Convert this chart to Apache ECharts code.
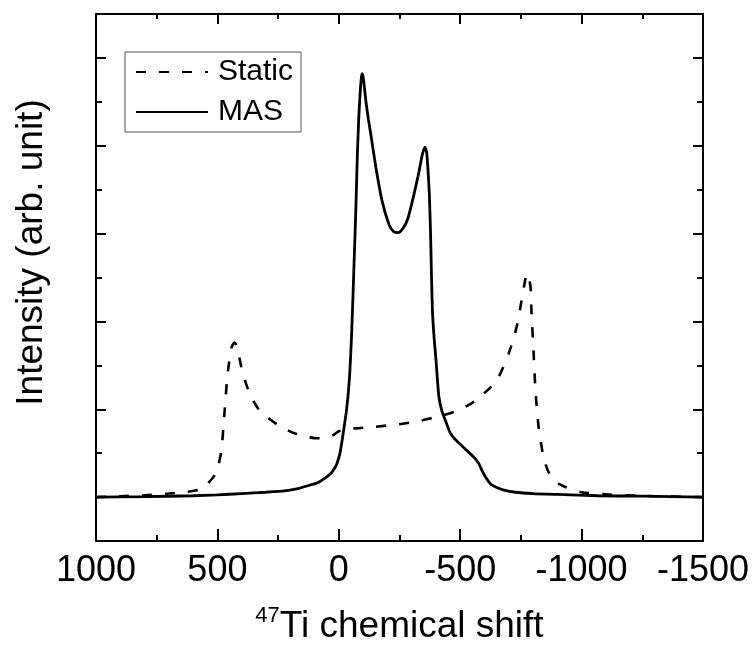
<!DOCTYPE html>
<html>
<head>
<meta charset="utf-8">
<script src="https://cdn.jsdelivr.net/npm/echarts@6/dist/echarts.min.js"></script>
<style>html,body{margin:0;padding:0;background:#fff}#c{width:752px;height:652px}</style>
</head>
<body>
<div id="c"></div>
<script>
// 47Ti chemical shift (ppm) and intensity (arb. unit)
const staticShift = [1000, 900, 800, 700, 640, 581, 545, 511, 495, 483, 470, 458, 442, 430, 420, 401, 380, 360, 330, 294, 250, 195, 140, 89, 50, 20, 0, -40, -84, -150, -248, -320, -384, -440, -494, -545, -589, -625, -658, -700, -732, -753, -768, -775, -783, -790, -794, -802, -810, -823, -843, -860, -876, -905, -933, -999, -1139, -1300, -1500];
const staticIntensity = [0.0, 0.02, 0.04, 0.08, 0.11, 0.16, 0.28, 0.5, 0.75, 1.07, 1.98, 2.8, 3.4, 3.52, 3.45, 2.95, 2.55, 2.27, 2.0, 1.82, 1.64, 1.48, 1.38, 1.34, 1.34, 1.42, 1.5, 1.55, 1.57, 1.6, 1.66, 1.72, 1.8, 1.88, 1.98, 2.13, 2.32, 2.5, 2.73, 3.27, 3.86, 4.48, 4.95, 5.09, 5.0, 4.77, 4.18, 3.34, 2.43, 1.6, 0.91, 0.62, 0.45, 0.31, 0.23, 0.11, 0.05, 0.02, 0.0];

const masShift = [1000, 800, 600, 500, 400, 300, 224, 163, 120, 89, 60, 31, 15, 7, -5, -14, -22, -30, -38, -45, -52, -58, -64, -70, -76, -82, -88, -93, -97, -102, -112, -122, -133, -153, -178, -207, -225, -245, -265, -285, -310, -330, -345, -355, -362, -368, -373, -378, -382, -386, -393, -400, -412, -425, -441, -460, -482, -510, -535, -556, -576, -590, -605, -625, -646, -680, -728, -800, -900, -1069, -1250, -1500];
const masIntensity = [0.0, 0.01, 0.03, 0.05, 0.08, 0.11, 0.14, 0.2, 0.27, 0.32, 0.42, 0.55, 0.68, 0.77, 1.0, 1.3, 1.6, 1.9, 2.3, 2.8, 3.6, 4.5, 5.5, 6.5, 7.7, 8.6, 9.2, 9.55, 9.64, 9.5, 9.0, 8.6, 8.22, 7.5, 6.75, 6.2, 6.05, 6.02, 6.12, 6.35, 6.9, 7.4, 7.82, 7.97, 7.85, 7.4, 6.9, 6.0, 5.0, 4.2, 3.6, 3.15, 2.3, 1.95, 1.72, 1.45, 1.3, 1.15, 1.02, 0.91, 0.77, 0.6, 0.45, 0.3, 0.23, 0.16, 0.11, 0.08, 0.06, 0.03, 0.02, 0.0];

const xTicks = [1000, 500, 0, -500, -1000, -1500];
const yMajorTicks = [0, 2, 4, 6, 8, 10];
const yMinorTicks = [1, 3, 5, 7, 9];

const FONT = '"Liberation Sans", Arial, Helvetica, sans-serif';
const pair = (xs, ys) => xs.map((x, i) => [x, ys[i]]);

const chart = echarts.init(document.getElementById('c'), null, {renderer: 'canvas'});

const axisLine = {show: true, onZero: false, lineStyle: {color: '#000', width: 2}};
function yAx(pos, ticks, len) {
  return {
    type: 'value', position: pos, min: -1, max: 11,
    axisLine: axisLine,
    axisTick: {show: true, inside: true, length: len, customValues: ticks, lineStyle: {color: '#000', width: 2}},
    axisLabel: {show: false}, splitLine: {show: false}
  };
}

const yLeftMajor = yAx('left', yMajorTicks, 10);
yLeftMajor.name = 'Intensity (arb. unit)';
yLeftMajor.nameLocation = 'middle';
yLeftMajor.nameGap = 46;
yLeftMajor.nameTextStyle = {fontFamily: FONT, fontSize: 37, color: '#000', padding: [0, 0, 0, 50]};

chart.setOption({
  animation: false,
  backgroundColor: '#fff',
  grid: {left: 96, right: 48, top: 14, bottom: 111, containLabel: false},
  legend: {
    left: 125, top: 52,
    orient: 'vertical',
    padding: [5, 8, 5, 10],
    itemGap: 10,
    itemWidth: 72, itemHeight: 30,
    borderColor: '#555', borderWidth: 1,
    itemStyle: {opacity: 0},
    textStyle: {fontFamily: FONT, fontSize: 30, color: '#000', lineHeight: 30, padding: [0, 0, 0, 5]},
    data: ['Static', 'MAS']
  },
  xAxis: [{
    type: 'value', position: 'bottom', inverse: true,
    min: -1500, max: 1000, interval: 500,
    axisLine: axisLine,
    axisTick: {show: true, inside: true, length: 12, lineStyle: {color: '#000', width: 2}},
    minorTick: {show: true, splitNumber: 2, length: 6, lineStyle: {color: '#000', width: 2}},
    axisLabel: {
      show: true, margin: 12, fontFamily: FONT, fontSize: 36, color: '#000',
      customValues: xTicks,
      formatter: v => String(v)
    },
    splitLine: {show: false},
    name: '{sup|47}{m|Ti chemical shift}',
    nameLocation: 'middle', nameGap: 64,
    nameTextStyle: {
      fontFamily: FONT, color: '#000',
      rich: {
        sup: {fontFamily: FONT, fontSize: 22, color: '#000', verticalAlign: 'top', lineHeight: 44},
        m: {fontFamily: FONT, fontSize: 37, color: '#000', lineHeight: 44}
      }
    }
  }, {
    type: 'value', position: 'top', inverse: true,
    min: -1500, max: 1000, interval: 500,
    axisLine: axisLine,
    axisTick: {show: true, inside: true, length: 10, lineStyle: {color: '#000', width: 2}},
    minorTick: {show: true, splitNumber: 2, length: 5, lineStyle: {color: '#000', width: 2}},
    axisLabel: {show: false}, splitLine: {show: false}
  }],
  yAxis: [
    yLeftMajor,
    yAx('left', yMinorTicks, 6),
    yAx('right', yMajorTicks, 10),
    yAx('right', yMinorTicks, 6)
  ],
  series: [{
    name: 'Static', type: 'line', xAxisIndex: 0, yAxisIndex: 0,
    data: pair(staticShift, staticIntensity),
    symbol: 'none', symbolSize: 0, showSymbol: false, smooth: 0.2,
    lineStyle: {color: '#000', width: 2.6, type: [10, 13]},
    itemStyle: {color: '#000'}, z: 2
  }, {
    name: 'MAS', type: 'line', xAxisIndex: 0, yAxisIndex: 0,
    data: pair(masShift, masIntensity),
    symbol: 'none', symbolSize: 0, showSymbol: false, smooth: 0.2,
    lineStyle: {color: '#000', width: 2.8},
    itemStyle: {color: '#000'}, z: 3
  }]
});
</script>
</body>
</html>
